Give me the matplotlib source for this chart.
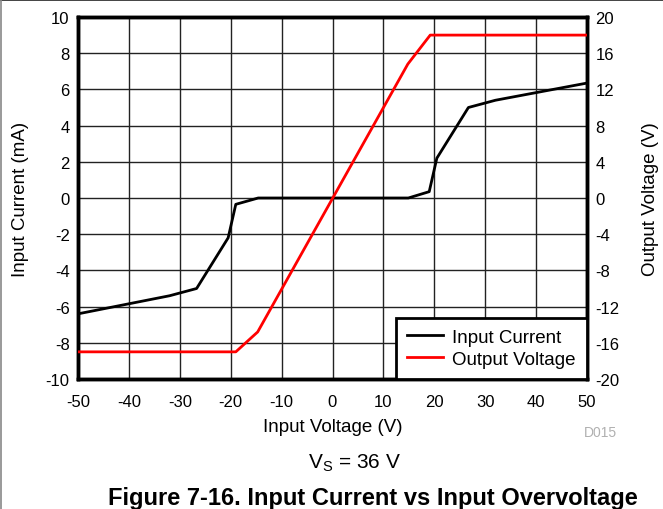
import numpy as np
import matplotlib.pyplot as plt
from matplotlib.lines import Line2D

plt.rcParams['font.family'] = ['Liberation Sans', 'DejaVu Sans']
plt.rcParams['axes.unicode_minus'] = False

# input current vs input voltage (left axis)
vin_i = [-50, -32, -26.7, -20.5, -19.0, -14.6, 14.9, 19.0, 20.5, 26.7, 32, 50]
i_in = [-6.4, -5.4, -5.0, -2.2, -0.35, 0.0, 0.0, 0.35, 2.2, 5.0, 5.4, 6.35]

# output voltage vs input voltage (right axis)
vin_o = [-50, -19.0, -14.7, 14.8, 19.2, 50]
v_out = [-17, -17, -14.8, 14.8, 18, 18]

xticks = np.arange(-50, 51, 10)
yticks_l = np.arange(-10, 11, 2)
yticks_r = np.arange(-20, 21, 4)

fig = plt.figure(figsize=(6.63, 5.10), dpi=100)
ax = fig.add_axes([78/663, 130/510, 509/663, 362/510])
ax2 = ax.twinx()

ax.plot(vin_i, i_in, color='black', lw=2, zorder=3)
ax2.plot(vin_o, v_out, color='red', lw=2, zorder=3)

ax.set_xlim(-50, 50)
ax.set_ylim(-10, 10)
ax2.set_ylim(-20, 20)
ax.set_xticks(xticks)
ax.set_yticks(yticks_l)
ax2.set_yticks(yticks_r)
ax.grid(True, color='#222222', lw=1)
ax.set_axisbelow(True)

for a in (ax, ax2):
    a.tick_params(length=0, labelsize=12, pad=6)
    for s in a.spines.values():
        s.set_linewidth(2.5)
ax.tick_params(axis='x', pad=11)

ax.set_xlabel('Input Voltage (V)', fontsize=13.5, labelpad=6)
ax.set_ylabel('Input Current (mA)', fontsize=13.5, labelpad=12)
ax2.set_ylabel('Output Voltage (V)', fontsize=13.5, labelpad=16)

handles = [Line2D([], [], color='black', lw=2), Line2D([], [], color='red', lw=2)]
leg = ax2.legend(handles, ['Input Current', 'Output Voltage'], loc='lower right',
                 fontsize=13.5, frameon=True, fancybox=False, borderaxespad=0,
                 handlelength=1.9, handletextpad=0.5, borderpad=0.6,
                 labelspacing=0.25, framealpha=1)
leg.get_frame().set_edgecolor('black')
leg.get_frame().set_linewidth(2)

fig.text(600/663, 1 - 433/510, 'D015', fontsize=10, color='#b0b0b0',
         ha='center', va='center')
fig.text(355/663, 1 - 463/510, r'V$_\mathregular{S}$ = 36 V', fontsize=15,
         ha='center', va='center')
fig.text(373/663, 1 - 499/510, 'Figure 7-16. Input Current vs Input Overvoltage',
         fontsize=17, fontweight='bold', ha='center', va='center')

# thin frame along the top and left edges
fig.add_artist(Line2D([0, 1], [0.999, 0.999], color='#222222', lw=1.2,
                      transform=fig.transFigure))
fig.add_artist(Line2D([0.001, 0.001], [0, 1], color='#888888', lw=1.2,
                      transform=fig.transFigure))

fig.savefig('out.png', dpi=100)
